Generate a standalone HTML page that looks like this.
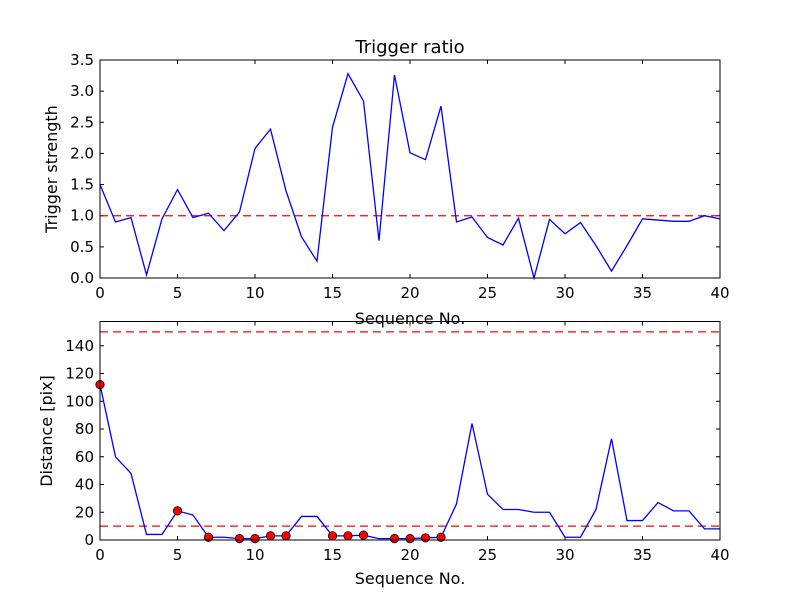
<!DOCTYPE html>
<html><head><meta charset="utf-8"><style>
body{margin:0;background:#fff}
svg text{font-family:"DejaVu Sans","Liberation Sans",sans-serif;fill:#000}
</style></head><body>
<svg id="c" width="800" height="600"></svg>
<script>
const seq=[0,1,2,3,4,5,6,7,8,9,10,11,12,13,14,15,16,17,18,19,20,21,22,23,24,25,26,27,28,29,30,31,32,33,34,35,36,37,38,39,40];
const strength=[1.5,0.9,0.97,0.05,0.95,1.42,0.97,1.04,0.76,1.06,2.08,2.39,1.4,0.66,0.27,2.42,3.28,2.84,0.6,3.26,2.01,1.9,2.76,0.9,0.98,0.65,0.53,0.96,0.0,0.94,0.71,0.89,0.52,0.11,0.52,0.95,0.93,0.91,0.91,1.0,0.95];
const distance=[112,60,48,4,4,21,18,2,2,1,1,3,3,17,17,3,3,3.5,1,1,1,1.5,2,26,84,33,22,22,20,20,2,2,22,73,14,14,27,21,21,8,8];
const strengthThreshold=1.0;
const distThresholds=[10,150];
const xTicks=[0,5,10,15,20,25,30,35,40];
const yTicksTop=[0,0.5,1.0,1.5,2.0,2.5,3.0,3.5];
const yTicksBot=[0,20,40,60,80,100,120,140];
const NS="http://www.w3.org/2000/svg";
const svg=document.getElementById('c');
function mk(t,a,p){const e=document.createElementNS(NS,t);for(const k in a)e.setAttribute(k,a[k]);(p||svg).appendChild(e);return e;}
const L=100,R=720;
const xs=v=>L+(v-0)/(40-0)*(R-L);
function panel(top,bot,ymax,yTicks,fmt,name){
  const ys=v=>bot-v/ymax*(bot-top);
  const g=mk('g',{});
  
  
  xTicks.forEach(t=>{
    mk('line',{x1:xs(t),x2:xs(t),y1:bot,y2:bot-4,stroke:'#000'},g);
    mk('line',{x1:xs(t),x2:xs(t),y1:top,y2:top+4,stroke:'#000'},g);
    const tx=mk('text',{x:xs(t),y:bot+20,'text-anchor':'middle','font-size':15},g);tx.textContent=t;
    
    
  });
  yTicks.forEach(t=>{
    mk('line',{x1:L,x2:L+4,y1:ys(t),y2:ys(t),stroke:'#000'},g);
    mk('line',{x1:R,x2:R-4,y1:ys(t),y2:ys(t),stroke:'#000'},g);
    const tx=mk('text',{x:L-6,y:ys(t)+5,'text-anchor':'end','font-size':15},g);tx.textContent=fmt(t);
    
    
  });
  return {g,ys};
}
const P1=panel(60,278,3.5,yTicksTop,t=>t.toFixed(1),'strength-panel');
const th=mk('line',{x1:L,x2:R,y1:P1.ys(strengthThreshold),y2:P1.ys(strengthThreshold),stroke:'#f00','stroke-width':1.3,'stroke-dasharray':'8,5'});


const l1=mk('polyline',{points:seq.map((s,i)=>xs(s)+','+P1.ys(strength[i])).join(' '),fill:'none',stroke:'#00f','stroke-width':1.3});


mk('rect',{x:L,y:60,width:R-L,height:218,fill:'none',stroke:'#000'});
let t=mk('text',{x:410,y:53,'text-anchor':'middle','font-size':18});t.textContent='Trigger ratio';

t=mk('text',{x:0,y:0,'text-anchor':'middle','font-size':16,transform:'translate(57,169) rotate(-90)'});t.textContent='Trigger strength';

t=mk('text',{x:410,y:324,'text-anchor':'middle','font-size':16});t.textContent='Sequence No.';

const P2=panel(321.5,540,157.5,yTicksBot,t=>t,'distance-panel');
distThresholds.forEach(v=>{
  const d=mk('line',{x1:L,x2:R,y1:P2.ys(v),y2:P2.ys(v),stroke:'#f00','stroke-width':1.3,'stroke-dasharray':'8,5'});
  
  
});
const l2=mk('polyline',{points:seq.map((s,i)=>xs(s)+','+P2.ys(distance[i])).join(' '),fill:'none',stroke:'#00f','stroke-width':1.3});


seq.forEach((s,i)=>{ if(strength[i]>strengthThreshold){
  const c=mk('circle',{cx:xs(s),cy:P2.ys(distance[i]),r:4.2,fill:'#f00',stroke:'#000','stroke-width':0.8});
  
  
}});
mk('rect',{x:L,y:321.5,width:R-L,height:218.5,fill:'none',stroke:'#000'});
t=mk('text',{x:0,y:0,'text-anchor':'middle','font-size':16,transform:'translate(52,431) rotate(-90)'});t.textContent='Distance [pix]';

t=mk('text',{x:410,y:584,'text-anchor':'middle','font-size':16});t.textContent='Sequence No.';

</script>
</body></html>
